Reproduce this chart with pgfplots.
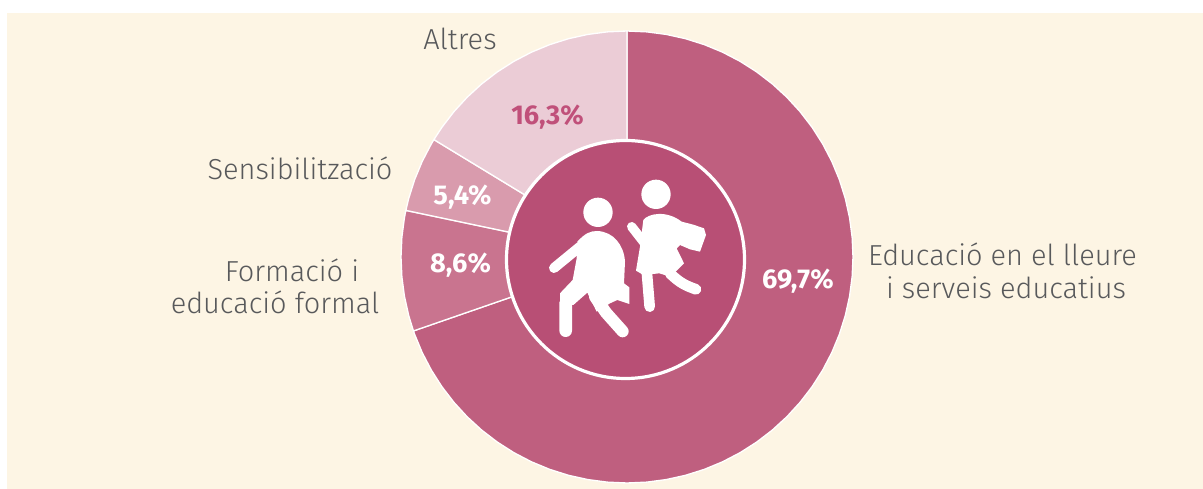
\documentclass[border=0pt]{standalone}
\usepackage{fontspec}
\setmainfont{Fira Sans Light}[BoldFont={Fira Sans Bold}]
\usepackage{pgfplots}
\pgfplotsset{compat=1.18}
\definecolor{PgBack}{HTML}{FDF5E4}
\definecolor{PgLleure}{HTML}{BF5F7F}
\definecolor{PgFormal}{HTML}{C9748F}
\definecolor{PgSensi}{HTML}{D99BAD}
\definecolor{PgAltres}{HTML}{EBCCD6}
\definecolor{PgCentre}{HTML}{B84F75}
\definecolor{PgPct}{HTML}{C0507A}
\definecolor{PgText}{HTML}{58595B}
\pgfplotsset{
  wedge/.style={draw=white,line width=1pt,line join=round,mark=none,data cs=polar}
}
\tikzset{
  lab/.style={font=\fontsize{21.7}{25}\selectfont,text=PgText,anchor=base,inner sep=0pt},
  pct/.style={font=\fontsize{20.4}{24}\selectfont\bfseries,text=white,anchor=base,inner sep=0pt}
}
\begin{document}
\begin{tikzpicture}
% axis units are reference pixels, origin at the centre of the ring
\begin{axis}[
  scale only axis,width=902.25pt,height=366.75pt,
  xmin=-627,xmax=576,ymin=-232,ymax=257,
  hide axis,clip=false
]
\addplot[fill=white,draw=none,mark=none] coordinates {(-627,-232)(576,-232)(576,257)(-627,257)} --cycle;
\addplot[fill=PgBack,draw=none,mark=none] coordinates {(-620,-232)(576,-232)(576,244)(-620,244)} --cycle;
% 69,7 %
\addplot[wedge,fill=PgLleure] coordinates {(0,0)(90,226)(85,226)(80,226)(75,226)(70,226)(65,226)(60,226)(55,226)(50,226)(45,226)(40,226)(35,226)(30,226)(25,226)(20,226)(15,226)(10,226)(5,226)(0,226)(-5,226)(-10,226)(-15,226)(-20,226)(-25,226)(-30,226)(-35,226)(-40,226)(-45,226)(-50,226)(-55,226)(-60,226)(-65,226)(-70,226)(-75,226)(-80,226)(-85,226)(-90,226)(-95,226)(-100,226)(-105,226)(-110,226)(-115,226)(-120,226)(-125,226)(-130,226)(-135,226)(-140,226)(-145,226)(-150,226)(-155,226)(-160,226)(-160.9,226)} --cycle;
% 8,6 %
\addplot[wedge,fill=PgFormal] coordinates {(0,0)(-160.9,226)(-165,226)(-170,226)(-175,226)(-180,226)(-185,226)(-190,226)(-191.9,226)} --cycle;
% 5,4 %
\addplot[wedge,fill=PgSensi] coordinates {(0,0)(-191.9,226)(-195,226)(-200,226)(-205,226)(-210,226)(-211.3,226)} --cycle;
% 16,3 %
\addplot[wedge,fill=PgAltres] coordinates {(0,0)(-211.3,226)(-215,226)(-220,226)(-225,226)(-230,226)(-235,226)(-240,226)(-245,226)(-250,226)(-255,226)(-260,226)(-265,226)(-270,226)} --cycle;
% centre disc
\draw[white,line width=2.4pt,fill=PgCentre] (axis cs:-1.5,-2.5) circle[radius=119];
% icon, in coordinates of a 3x crop whose corner is pixel (500,130)
\begin{scope}[shift={(axis cs:-127,127)},x=0.25pt,y=-0.25pt,white,line cap=round,line join=round]
  \fill (294,247) circle[radius=44];
  \fill (468,193) circle[radius=44];
  \fill (232,335) .. controls (255,310) and (270,303) .. (292,303)
     .. controls (340,305) and (372,345) .. (375,395)
     -- (372,460) -- (388,472) -- (388,522) -- (352,510) -- (330,520) -- (290,545)
     -- (262,488) -- (220,525) -- (180,520) -- (180,490) -- (218,450) -- (230,385) -- cycle;
  \draw[line width=7.5pt] (162,414) -- (240,350);
  \draw[line width=9.5pt] (197,602) -- (197,518) -- (245,465);
  \draw[line width=9pt] (285,500) -- (318,548) -- (368,604);
  \fill (430,270) .. controls (445,250) and (500,240) .. (545,275)
     -- (580,284) -- (612,295) -- (618,315) -- (600,365) -- (570,358) -- (540,345) -- (530,355)
     -- (552,400) -- (532,420) -- (510,440) -- (478,430) -- (430,435) -- (408,422) -- (420,350) -- cycle;
  \draw[line width=7pt] (395,290) -- (430,335);
  \draw[line width=8pt] (440,420) -- (449,530);
  \draw[line width=8pt] (510,430) .. controls (540,460) and (560,468) .. (588,478);
\end{scope}
% labels: base of each line, in pixels from the ring centre
\node[lab] at (axis cs:-167,207) {Altres};
\node[lab] at (axis cs:-327,77) {Sensibilització};
\node[lab] at (axis cs:-335,-25) {Formació i};
\node[lab] at (axis cs:-352,-57) {educació formal};
\node[lab] at (axis cs:375.5,-9) {Educació en el lleure};
\node[lab] at (axis cs:379,-42) {i serveis educatius};
\node[pct,text=PgPct] at (axis cs:-79.5,132) {16,3\%};
\node[pct] at (axis cs:-164.5,52) {5,4\%};
\node[pct] at (axis cs:-166.5,-16) {8,6\%};
\node[pct] at (axis cs:171,-32) {69,7\%};
\end{axis}
\end{tikzpicture}
\end{document}
